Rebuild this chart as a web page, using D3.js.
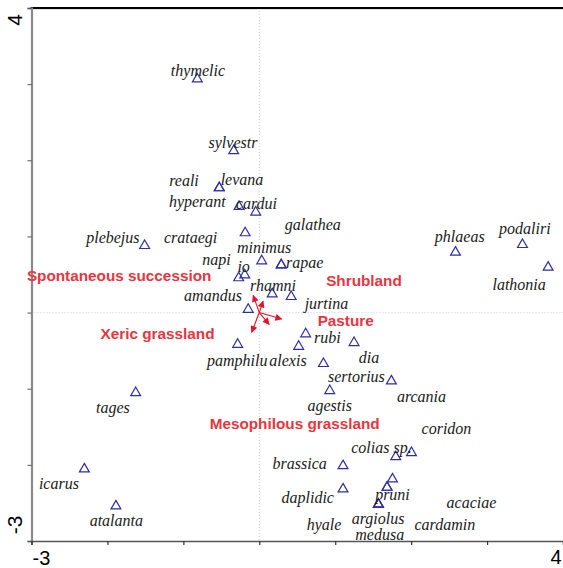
<!DOCTYPE html>
<html>
<head>
<meta charset="utf-8">
<script src="https://cdn.jsdelivr.net/npm/d3@7"></script>
<style>
  html, body { margin: 0; padding: 0; background: #fff; }
  svg { display: block; }
</style>
</head>
<body>
<svg id="chart" width="563" height="568"></svg>
<script>
// ---- data ----
const axisTicks = [-3, -2, -1, 0, 1, 2, 3, 4];
const axisEndLabels = ["-3", "4"];

const species = ["thymelic","sylvestr","reali","levana","hyperant","cardui","galathea","plebejus","crataegi","minimus","napi","io","rapae","rhamni","amandus","jurtina","pamphilu","alexis","rubi","dia","sertorius","agestis","arcania","tages","icarus","atalanta","phlaeas","podaliri","lathonia","coridon","colias sp.","brassica","daplidic","pruni","acaciae","hyale","argiolus","cardamin","medusa"];
const speciesX = [-0.816,-0.337,-0.527,-0.527,-0.267,-0.047,0.289,-1.510,-0.186,0.032,-0.271,-0.192,0.289,0.170,-0.146,0.420,-0.285,0.519,0.611,1.248,0.845,0.928,1.740,-1.628,-2.304,-1.888,2.584,3.466,3.804,2.004,1.797,1.103,1.103,1.683,1.754,1.569,1.569,1.683,1.569];
const speciesY = [3.066,2.124,1.637,1.637,1.392,1.318,0.625,0.879,1.046,0.678,0.455,0.494,0.625,0.244,0.041,0.209,-0.419,-0.445,-0.281,-0.396,-0.671,-1.026,-0.899,-1.053,-2.055,-2.541,0.792,0.892,0.595,-1.841,-1.894,-2.012,-2.318,-2.296,-2.187,-2.519,-2.519,-2.296,-2.519];
const labelX = [-0.808,-0.347,-0.992,-0.228,-0.816,-0.038,0.704,-1.928,-0.904,0.062,-0.565,-0.206,0.598,0.180,-0.610,0.884,-0.291,0.378,0.897,1.445,1.279,0.928,2.136,-1.928,-2.639,-1.883,2.640,3.497,3.422,2.465,1.609,0.532,0.638,1.754,2.794,0.852,1.564,2.443,1.586];
const labelY = [3.179,2.225,1.729,1.742,1.453,1.427,1.151,0.989,0.989,0.849,0.700,0.599,0.652,0.353,0.222,0.122,-0.632,-0.636,-0.334,-0.593,-0.846,-1.223,-1.105,-1.244,-2.252,-2.739,0.997,1.095,0.363,-1.530,-1.770,-1.989,-2.436,-2.397,-2.493,-2.791,-2.712,-2.782,-2.919];

const envNames = ["Spontaneous succession","Shrubland","Pasture","Mesophilous grassland","Xeric grassland"];
const envX = [-0.08, 0.05, 0.295, 0.13, -0.10];
const envY = [0.225, 0.15, -0.085, -0.155, -0.26];
const envLabelX = [-1.846, 1.379, 1.138, 0.466, -1.340];
const envLabelY = [0.481, 0.415, -0.110, -1.464, -0.281];

// ---- chart ----
const svg = d3.select("#chart");
const x = d3.scaleLinear().domain([-3, 4]).range([31.5, 563]);
const y = d3.scaleLinear().domain([-3, 4]).range([541, 8]);

// zero reference lines
svg.append("line").attr("x1", x(0)).attr("x2", x(0)).attr("y1", y(4)).attr("y2", y(-3))
  .attr("stroke", "#cfcfcf").attr("stroke-width", 1).attr("stroke-dasharray", "1,2");
svg.append("line").attr("x1", x(-3)).attr("x2", x(4)).attr("y1", y(0)).attr("y2", y(0))
  .attr("stroke", "#cfcfcf").attr("stroke-width", 1).attr("stroke-dasharray", "1,2");

// top border
svg.append("line").attr("x1", x(-3) - 1).attr("x2", 563).attr("y1", y(4) + 1.5).attr("y2", y(4) + 1.5)
  .attr("stroke", "#e3e3e3").attr("stroke-width", 1);
svg.append("line").attr("x1", x(-3) - 1).attr("x2", 563).attr("y1", y(4)).attr("y2", y(4))
  .attr("stroke", "#000").attr("stroke-width", 2);

// axes
const leftAxis = d3.axisLeft(y).tickValues(axisTicks).tickSize(4).tickFormat("");
const gL = svg.append("g").attr("transform", `translate(${x(-3)},0)`).call(leftAxis);
gL.select(".domain").attr("stroke", "#8a8a8a").attr("stroke-width", 2.2);
gL.selectAll(".tick line").attr("stroke", "#555").attr("stroke-width", 1);

const bottomAxis = d3.axisBottom(x).tickValues(axisTicks).tickSize(4).tickFormat("");
const gB = svg.append("g").attr("transform", `translate(0,${y(-3)})`).call(bottomAxis);
gB.select(".domain").attr("stroke", "#555").attr("stroke-width", 1.5);
gB.selectAll(".tick line").attr("stroke", "#333").attr("stroke-width", 1.2);

// axis end labels
const axFont = "Liberation Sans, Arial, sans-serif";
svg.append("text").text(axisEndLabels[1]).attr("transform", `translate(${x(-3) - 10},${y(4) + 12}) rotate(-90)`)
  .attr("text-anchor", "middle").attr("font-family", axFont).attr("font-size", 21).attr("fill", "#000");
svg.append("text").text(axisEndLabels[0]).attr("transform", `translate(${x(-3) - 10},${y(-3) - 16}) rotate(-90)`)
  .attr("text-anchor", "middle").attr("font-family", axFont).attr("font-size", 21).attr("fill", "#000");
svg.append("text").text(axisEndLabels[0]).attr("x", x(-3) + 10).attr("y", y(-3) + 24)
  .attr("text-anchor", "middle").attr("font-family", axFont).attr("font-size", 20).attr("fill", "#000");
svg.append("text").text(axisEndLabels[1]).attr("x", 556).attr("y", y(-3) + 23)
  .attr("text-anchor", "middle").attr("font-family", axFont).attr("font-size", 20).attr("fill", "#000");

// species points
const sp = species.map((n, i) => ({ name: n, x: speciesX[i], y: speciesY[i], lx: labelX[i], ly: labelY[i] }));
const tri = d3.symbol().type(d3.symbolTriangle).size(42);
svg.append("g").selectAll("path").data(sp).join("path")
  .attr("d", tri)
  .attr("transform", d => `translate(${x(d.x)},${y(d.y)})`)
  .attr("fill", "none").attr("stroke", "#2d2da8").attr("stroke-width", 1.2);

svg.append("g").selectAll("text").data(sp).join("text")
  .attr("x", d => x(d.lx)).attr("y", d => y(d.ly)).attr("dy", "0.33em")
  .attr("text-anchor", "middle")
  .attr("font-family", "Liberation Serif, Times New Roman, serif")
  .attr("font-style", "italic").attr("font-size", 16).attr("fill", "#1a1a1a")
  .text(d => d.name);

// environmental arrows
const defs = svg.append("defs");
defs.append("marker").attr("id", "ah").attr("viewBox", "0 0 10 10").attr("refX", 9).attr("refY", 5)
  .attr("markerWidth", 10).attr("markerHeight", 7).attr("markerUnits", "userSpaceOnUse").attr("orient", "auto")
  .append("path").attr("d", "M0,0 L10,5 L0,10 Z").attr("fill", "#e0142c");

const env = envNames.map((n, i) => ({ name: n, x: envX[i], y: envY[i], lx: envLabelX[i], ly: envLabelY[i] }));
svg.append("g").selectAll("line").data(env).join("line")
  .attr("x1", x(0)).attr("y1", y(0))
  .attr("x2", d => x(d.x)).attr("y2", d => y(d.y))
  .attr("stroke", "#e0142c").attr("stroke-width", 1.1)
  .attr("marker-end", "url(#ah)");

svg.append("g").selectAll("text").data(env).join("text")
  .attr("x", d => x(d.lx)).attr("y", d => y(d.ly)).attr("dy", "0.35em")
  .attr("text-anchor", "middle")
  .attr("font-family", "Liberation Sans, Arial, sans-serif")
  .attr("font-weight", "bold").attr("font-size", 15.3).attr("fill", "#e8353f")
  .text(d => d.name);
</script>
</body>
</html>
